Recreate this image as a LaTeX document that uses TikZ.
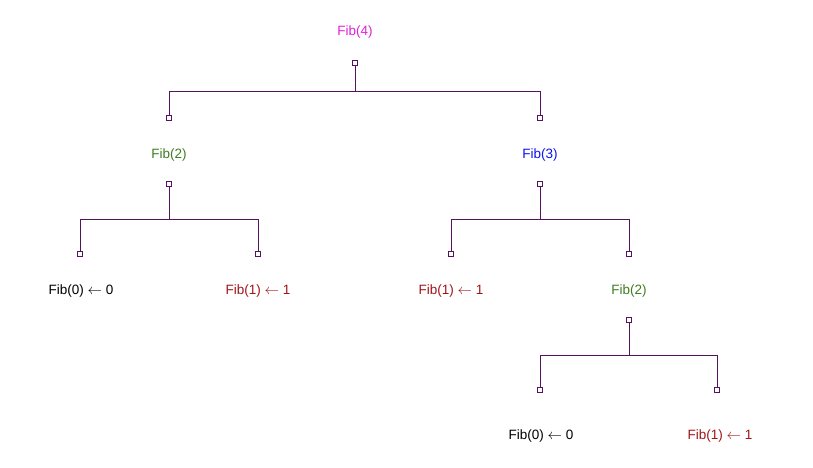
\documentclass[tikz,border=0pt]{standalone}
\usepackage{fontspec}
\setmainfont{Liberation Sans}
\begin{document}
\begin{tikzpicture}[x=1pt,y=-1pt,
  conn/.style={draw=linec,line width=0.8pt},
  sq/.style={draw=linec,fill=white,line width=0.7pt,minimum size=4.5pt,inner sep=0pt,rectangle},
  lbl/.style={font=\fontsize{13.5}{16}\selectfont,inner sep=0pt,anchor=base}]
\definecolor{linec}{HTML}{55135F}
\definecolor{mag}{HTML}{E020D8}
\definecolor{grn}{HTML}{3D7D20}
\definecolor{blu}{HTML}{0A14F0}
\definecolor{red1}{HTML}{A01418}
\useasboundingbox (0,0) rectangle (813,468);
% labels
\node[lbl,text=mag] (t4) at (355,36) {Fib(4)};
\node[lbl,text=grn] (t2a) at (169,158) {Fib(2)};
\node[lbl,text=blu] (t3) at (540,158) {Fib(3)};
\node[lbl] (t0a) at (81,294) {Fib(0) $\leftarrow$ 0};
\node[lbl,text=red1] (t1a) at (258,294) {Fib(1) $\leftarrow$ 1};
\node[lbl,text=red1] (t1b) at (451,294) {Fib(1) $\leftarrow$ 1};
\node[lbl,text=grn] (t2b) at (629,294) {Fib(2)};
\node[lbl] (t0b) at (541,439) {Fib(0) $\leftarrow$ 0};
\node[lbl,text=red1] (t1c) at (720,439) {Fib(1) $\leftarrow$ 1};
% bar points
\coordinate (b4) at (355,91);
\coordinate (b2a) at (169,219);
\coordinate (b3) at (540,219);
\coordinate (b2b) at (629,355);
% connectors (drawn before squares)
\draw[conn] (355,63) -- (b4);
\draw[conn] (b4) -| (169,118);
\draw[conn] (b4) -| (540,118);
\draw[conn] (169,184) -- (b2a);
\draw[conn] (b2a) -| (80,254);
\draw[conn] (b2a) -| (258,254);
\draw[conn] (540,184) -- (b3);
\draw[conn] (b3) -| (451,254);
\draw[conn] (b3) -| (629,254);
\draw[conn] (629,320) -- (b2b);
\draw[conn] (b2b) -| (540,390);
\draw[conn] (b2b) -| (717,390);
% squares
\node[sq] (s4) at (355,63) {};
\node[sq] (s4l) at (169,118) {};
\node[sq] (s4r) at (540,118) {};
\node[sq] (s2a) at (169,184) {};
\node[sq] (s2al) at (80,254) {};
\node[sq] (s2ar) at (258,254) {};
\node[sq] (s3) at (540,184) {};
\node[sq] (s3l) at (451,254) {};
\node[sq] (s3r) at (629,254) {};
\node[sq] (s2b) at (629,320) {};
\node[sq] (s2bl) at (540,390) {};
\node[sq] (s2br) at (717,390) {};
\end{tikzpicture}
\end{document}
